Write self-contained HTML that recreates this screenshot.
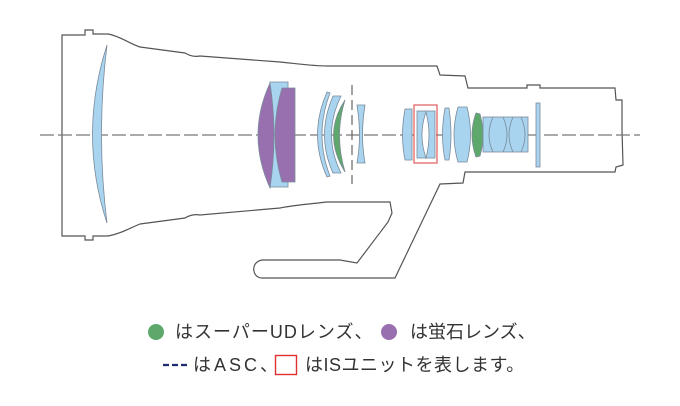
<!DOCTYPE html>
<html><head><meta charset="utf-8"><style>
body{margin:0;background:#fff;width:680px;height:406px;overflow:hidden;font-family:"Liberation Sans","Noto Sans CJK JP",sans-serif;}
.t{position:absolute;font-size:18px;line-height:20px;color:#333;white-space:nowrap;}
</style></head><body>
<svg width="680" height="406" style="position:absolute;left:0;top:0">
<g fill="none" stroke="#555" stroke-width="1.2">
<path d="M62,35 L85,35 L85,30 L93,30 L93,34 L108,34 C120,36 130,44 140,47 L185,53 C190,56 195,57 200,56 L280,62 C300,64 315,66 327,66 L437,66 L440,75 L465,76 L468,88 L527,88 L527,85 L540,85 L540,88 L615,88 L616,100 L622,100 L622,130 L623,165 L616,167 L615,172 L465,172 L463,183 L440,184 L395,278 L262,278 C252,278 250,262 262,260 L340,260 L357,263 L388,222 L392,213 L390,202 L327,202 C310,204 295,205 280,208 L200,215 C195,214 190,215 185,218 L140,224 C130,228 120,234 108,236 L93,236 L93,240 L85,240 L85,236 L62,236 Z"/>
</g>
<line x1="40" y1="135" x2="640" y2="135" stroke="#777" stroke-width="1.3" stroke-dasharray="14 4"/>
<g stroke="#7a8a99" stroke-width="0.8">
<path d="M107,45 Q78,135 107,223 Q96,135 107,45Z" fill="#a8d4f0"/>
<path d="M270,82 L288,82 L288,187 L270,187 Q262,135 270,82Z" fill="#a8d4f0"/>
<path d="M270,83 Q246,135 270,188 Q278,135 270,83Z" fill="#9870b0"/>
<path d="M295,88 L295,182 L282,182 Q268,135 282,88Z" fill="#9870b0"/>
<path d="M327,92 Q308,135 327,177 L330,176 Q314,135 330,93Z" fill="#a8d4f0"/>
<path d="M333,96 L341,96 Q322,135 341,173 L333,173 Q316,135 333,96Z" fill="#a8d4f0"/>
<path d="M345,100 Q322,135 345,172 Q334,135 345,100Z" fill="#5fa86c"/>
<path d="M357,105 L365,105 Q360,135 365,163 L357,163 Q362,135 357,105Z" fill="#a8d4f0"/>
<path d="M405,109 L412,109 L412,160 L405,160 Q400,135 405,109Z" fill="#a8d4f0"/>
<rect x="417" y="111" width="18" height="47" fill="#a8d4f0"/>
<path d="M426,112 Q418,135 426,158 Q432,135 426,112Z" fill="#fff"/>
<path d="M445,108 Q440,135 445,160 L449,160 Q453,135 449,108Z" fill="#a8d4f0"/>
<path d="M458,107 L467,107 Q474,135 467,162 L458,162 Q450,135 458,107Z" fill="#a8d4f0"/>
<path d="M476,113 Q468,135 476,157 L480,156 Q486,135 480,114Z" fill="#5fa86c"/>
<rect x="483" y="117" width="45" height="35" fill="#a8d4f0"/>
<path d="M493,117 Q485,135 493,152 M503,117 Q511,135 503,152 M513,117 Q505,135 513,152 M521,117 Q529,135 521,152" fill="none"/>
<rect x="536" y="103" width="4" height="64" fill="#a8d4f0"/>
</g>
<rect x="414" y="105" width="23" height="58" fill="none" stroke="#e05a5a" stroke-width="1.2"/>
<line x1="352" y1="85" x2="352" y2="184" stroke="#666" stroke-width="1.2" stroke-dasharray="10 5"/>
<circle cx="156" cy="332" r="8" fill="#5fa86c"/>
<circle cx="389" cy="332" r="8" fill="#9870b0"/>
<line x1="163" y1="365" x2="190" y2="365" stroke="#1c2a6e" stroke-width="2.2" stroke-dasharray="6 3"/>
<rect x="275.5" y="355.5" width="21" height="19" fill="none" stroke="#e03030" stroke-width="1.4"/>
</svg>
<div class="t" style="left:175px;top:322px;letter-spacing:1px">はスーパーUDレンズ、</div>
<div class="t" style="left:410px;top:322px;letter-spacing:0px">は蛍石レンズ、</div>
<div class="t" style="left:193px;top:355px;letter-spacing:3px">はASC、</div>
<div class="t" style="left:305px;top:355px;letter-spacing:0.5px">はISユニットを表します。</div>
</body></html>
